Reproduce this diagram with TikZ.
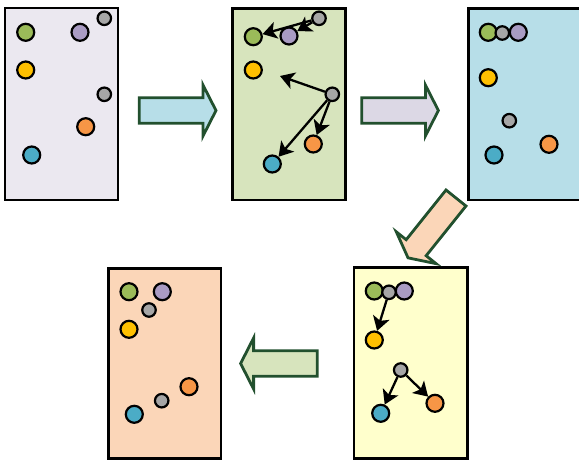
\documentclass[tikz,border=0pt]{standalone}
\usetikzlibrary{arrows.meta}

\definecolor{panA}{HTML}{EBE8F0}
\definecolor{panB}{HTML}{D7E4BD}
\definecolor{panC}{HTML}{B7DEE8}
\definecolor{panD}{HTML}{FBD6B8}
\definecolor{panE}{HTML}{FFFFCC}
\definecolor{arrB}{HTML}{DCD8E5}
\definecolor{arrEdge}{HTML}{22502E}
\definecolor{cGreen}{HTML}{9BBB59}
\definecolor{cPurple}{HTML}{A99BC3}
\definecolor{cGray}{HTML}{A6A6A6}
\definecolor{cYellow}{HTML}{FFC000}
\definecolor{cOrange}{HTML}{F79646}
\definecolor{cBlue}{HTML}{4BACC6}

\tikzset{
  panel/.style={draw=black, line width=2.8pt},
  dot/.style={circle, draw=black, line width=2.2pt, minimum size=17pt, inner sep=0pt},
  smalldot/.style={dot, minimum size=13.5pt, fill=cGray},
  link/.style={line width=2.3pt, -{Stealth[length=14pt,width=17pt,inset=3.5pt]}},
  blockarrow/.style={draw=arrEdge, line width=2.8pt, line join=miter},
  blockarr/.pic={
    \path[pic actions] (0,-12.8) -- (63.7,-12.8) -- (63.7,-25.5) -- (76.7,0)
      -- (63.7,25.5) -- (63.7,12.8) -- (0,12.8) -- cycle;
  }
}

\begin{document}
\begin{tikzpicture}[x=1pt, y=-1pt]
\clip (0,0) rectangle (579,460);

% --- frames ---
\path[panel, fill=panA] (5,8) rectangle (118,200);
\path[panel, fill=panB] (232.3,8.3) rectangle (345.7,200);
\path[panel, fill=panC] (468.3,8.3) rectangle (583,200);
\path[panel, fill=panD] (108.3,268.3) rectangle (221,458.5);
\path[panel, fill=panE] (354,267.3) rectangle (467.3,458.5);

% --- block arrows between frames ---
\pic[blockarrow, fill=panC] at (139.3,110.5) {blockarr};
\pic[blockarrow, fill=arrB] at (361.7,110.5) {blockarr};
\pic[blockarrow, fill=panD, rotate=231.3] at (456,198) {blockarr};
\pic[blockarrow, fill=panB, rotate=180] at (317.3,363.5) {blockarr};

% --- frame 1 ---
\node[dot, fill=cGreen]  (a-g) at (25.7,32.3) {};
\node[dot, fill=cPurple] (a-p) at (80,32.3) {};
\node[smalldot]          (a-s1) at (104.3,18.3) {};
\node[dot, fill=cYellow] (a-y) at (25.7,70) {};
\node[smalldot]          (a-s2) at (104.3,94.3) {};
\node[dot, fill=cOrange] (a-o) at (85.7,126.7) {};
\node[dot, fill=cBlue]   (a-b) at (31.7,155) {};

% --- frame 2 ---
\node[smalldot]          (b-s1) at (319,18.3) {};
\node[dot, fill=cGreen]  (b-g) at (253.3,36.7) {};
\node[dot, fill=cPurple] (b-p) at (289,36) {};
\node[dot, fill=cYellow] (b-y) at (253.3,70) {};
\node[smalldot]          (b-s2) at (332.3,94.3) {};
\node[dot, fill=cOrange] (b-o) at (313.3,144) {};
\node[dot, fill=cBlue]   (b-b) at (272.3,164) {};
\coordinate (b-free) at (280,76);
\draw[link] (b-s1) -- (b-g);
\draw[link] (b-s1) -- (b-p);
\draw[link] (b-s2) -- (b-free);
\draw[link] (b-s2) -- (b-o);
\draw[link] (b-s2) -- (b-b);

% --- frame 3 ---
\node[dot, fill=cGreen]  (c-g) at (488.3,32.3) {};
\node[dot, fill=cPurple] (c-p) at (518.3,32.3) {};
\node[smalldot]          (c-s1) at (502.3,33) {};
\node[dot, fill=cYellow] (c-y) at (488.3,77.7) {};
\node[smalldot]          (c-s2) at (509.3,120.7) {};
\node[dot, fill=cOrange] (c-o) at (549,144.3) {};
\node[dot, fill=cBlue]   (c-b) at (494,155) {};

% --- frame 4 (yellow) ---
\node[dot, fill=cGreen]  (e-g) at (374.3,291) {};
\node[dot, fill=cPurple] (e-p) at (404.3,291) {};
\node[smalldot]          (e-s1) at (389,292.3) {};
\node[dot, fill=cYellow] (e-y) at (374.3,340) {};
\node[smalldot]          (e-s2) at (400.7,370) {};
\node[dot, fill=cBlue]   (e-b) at (380.7,413.3) {};
\node[dot, fill=cOrange] (e-o) at (435,403.3) {};
\draw[link] (e-s1) -- (e-y);
\draw[link] (e-s2) -- (e-b);
\draw[link] (e-s2) -- (e-o);

% --- frame 5 (peach) ---
\node[dot, fill=cGreen]  (d-g) at (129,291.7) {};
\node[dot, fill=cPurple] (d-p) at (162.3,291.7) {};
\node[smalldot]          (d-s1) at (149,310) {};
\node[dot, fill=cYellow] (d-y) at (129,329.3) {};
\node[dot, fill=cOrange] (d-o) at (189,386.7) {};
\node[smalldot]          (d-s2) at (161.7,400.7) {};
\node[dot, fill=cBlue]   (d-b) at (134.3,414.3) {};
\end{tikzpicture}
\end{document}
